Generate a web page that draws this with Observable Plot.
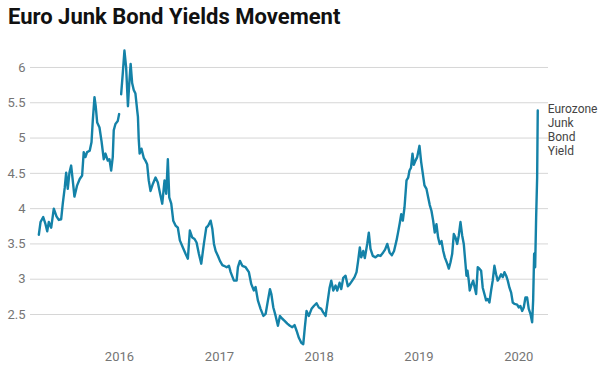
<!DOCTYPE html>
<html>
<head>
<meta charset="utf-8">
<script src="https://cdn.jsdelivr.net/npm/d3@7"></script>
<script src="https://cdn.jsdelivr.net/npm/@observablehq/plot@0.6"></script>
<style>
  html, body { margin: 0; padding: 0; background: #fff; }
  #title { height: 36px; line-height: 34px; padding-left: 8px; font-family: Roboto, sans-serif; font-weight: 700; font-size: 22px; color: #111; white-space: nowrap; }
  #chart svg { display: block; }
</style>
</head>
<body>
<div id="title">Euro Junk Bond Yields Movement</div>
<div id="chart"></div>
<script>
const titleText = "Euro Junk Bond Yields Movement";
const seriesLabel = "Eurozone\nJunk\nBond\nYield";
const yTicks = [2.5, 3, 3.5, 4, 4.5, 5, 5.5, 6];
const xTickYears = [2016, 2017, 2018, 2019, 2020];

// time as decimal year, yield in %
const years = [
2015.192,2015.209,2015.236,2015.259,2015.276,2015.292,2015.316,2015.342,2015.369,2015.392,
2015.416,2015.432,2015.452,2015.466,2015.482,2015.499,2015.516,2015.532,2015.549,2015.576,
2015.602,2015.626,2015.642,2015.659,2015.676,2015.702,2015.720,2015.733,2015.750,2015.763,
2015.777,2015.800,2015.820,2015.843,2015.860,2015.883,2015.900,2015.917,2015.933,2015.943,
2015.960,2015.983,2015.997,2016.005,2016.017,2016.033,2016.050,2016.067,2016.085,2016.097,
2016.112,2016.127,2016.143,2016.160,2016.177,2016.185,2016.193,2016.202,2016.220,2016.243,
2016.260,2016.277,2016.293,2016.311,2016.334,2016.361,2016.384,2016.404,2016.428,2016.451,
2016.468,2016.484,2016.498,2016.518,2016.538,2016.561,2016.584,2016.604,2016.634,2016.661,
2016.684,2016.704,2016.728,2016.751,2016.771,2016.794,2016.818,2016.844,2016.868,2016.888,
2016.912,2016.929,2016.945,2016.962,2016.985,2017.005,2017.029,2017.045,2017.072,2017.095,
2017.112,2017.145,2017.172,2017.185,2017.205,2017.229,2017.262,2017.295,2017.319,2017.345,
2017.362,2017.385,2017.412,2017.440,2017.463,2017.486,2017.506,2017.520,2017.540,2017.563,
2017.586,2017.606,2017.630,2017.653,2017.680,2017.706,2017.730,2017.753,2017.773,2017.796,
2017.820,2017.840,2017.856,2017.873,2017.896,2017.923,2017.946,2017.973,2017.996,2018.020,
2018.040,2018.064,2018.081,2018.104,2018.121,2018.141,2018.164,2018.181,2018.204,2018.221,
2018.241,2018.264,2018.287,2018.307,2018.331,2018.354,2018.374,2018.389,2018.407,2018.421,
2018.441,2018.457,2018.481,2018.497,2018.514,2018.537,2018.564,2018.589,2018.614,2018.641,
2018.660,2018.682,2018.705,2018.728,2018.750,2018.775,2018.790,2018.808,2018.822,2018.838,
2018.855,2018.875,2018.892,2018.905,2018.920,2018.935,2018.948,2018.965,2018.982,2019.005,
2019.022,2019.038,2019.055,2019.075,2019.092,2019.108,2019.125,2019.142,2019.158,2019.175,
2019.192,2019.208,2019.226,2019.243,2019.259,2019.283,2019.299,2019.316,2019.333,2019.349,
2019.366,2019.383,2019.399,2019.416,2019.433,2019.449,2019.466,2019.476,2019.486,2019.499,
2019.509,2019.526,2019.543,2019.559,2019.573,2019.589,2019.606,2019.623,2019.639,2019.656,
2019.673,2019.689,2019.706,2019.723,2019.739,2019.756,2019.773,2019.789,2019.806,2019.823,
2019.840,2019.857,2019.874,2019.890,2019.907,2019.924,2019.940,2019.957,2019.984,2020.000,
2020.017,2020.034,2020.050,2020.067,2020.084,2020.100,2020.117,2020.134,2020.144,2020.154,
2020.164,2020.174,2020.184,2020.190
];
const yields = [
3.63,3.81,3.88,3.78,3.68,3.81,3.73,4.00,3.89,3.84,
3.85,4.07,4.30,4.51,4.28,4.51,4.61,4.40,4.17,4.33,
4.42,4.47,4.80,4.73,4.80,4.82,4.94,5.25,5.58,5.44,
5.22,5.15,4.96,4.70,4.78,4.68,4.70,4.54,4.73,5.11,
5.20,5.24,5.34,null,5.62,5.91,6.24,6.00,5.45,5.75,
6.05,5.78,5.68,5.63,5.40,5.30,4.98,4.78,4.85,4.72,
4.68,4.63,4.40,4.25,4.35,4.44,4.37,4.23,4.07,4.40,
4.21,4.70,4.16,4.07,3.83,3.76,3.73,3.55,3.45,3.36,
3.29,3.69,3.59,3.57,3.52,3.36,3.22,3.50,3.73,3.76,
3.83,3.71,3.50,3.40,3.33,3.26,3.20,3.19,3.17,3.19,
3.10,2.98,2.98,3.17,3.26,3.19,3.17,3.10,2.93,2.84,
2.89,2.70,2.58,2.48,2.51,2.70,2.86,2.79,2.60,2.48,
2.34,2.48,2.44,2.41,2.37,2.34,2.32,2.35,2.27,2.17,
2.10,2.08,2.32,2.55,2.48,2.58,2.62,2.66,2.60,2.58,
2.53,2.48,2.65,2.88,2.98,2.84,2.91,2.84,2.95,2.86,
3.02,3.05,2.90,2.93,2.98,3.03,3.10,3.25,3.45,3.31,
3.40,3.30,3.50,3.66,3.43,3.33,3.31,3.34,3.33,3.38,
3.42,3.50,3.38,3.34,3.40,3.55,3.66,3.80,3.92,3.83,
4.02,4.40,4.44,4.54,4.58,4.78,4.62,4.68,4.73,4.89,
4.66,4.50,4.33,4.28,4.16,4.05,3.97,3.83,3.66,3.78,
3.59,3.50,3.54,3.40,3.31,3.22,3.15,3.24,3.36,3.64,
3.59,3.50,3.62,3.81,3.62,3.50,3.22,3.05,3.12,2.98,
2.84,2.92,2.98,2.88,2.79,3.17,3.15,3.12,2.88,2.79,
2.70,2.72,2.67,2.84,2.98,3.19,3.07,2.98,3.02,3.07,
3.03,3.10,3.05,2.98,2.88,2.81,2.67,2.65,2.64,2.60,
2.62,2.55,2.60,2.74,2.74,2.58,2.51,2.39,2.70,3.36,
3.17,3.88,4.44,5.39
];

function decToDate(t) {
  const y = Math.floor(t);
  const a = Date.UTC(y, 0, 1), b = Date.UTC(y + 1, 0, 1);
  return new Date(a + (t - y) * (b - a));
}

const data = years.map((t, i) => ({date: decToDate(t), value: yields[i]}));
const last = data[data.length - 1];
const xTicks = xTickYears.map(y => new Date(Date.UTC(y, 0, 1)));

const chart = Plot.plot({
  width: 601,
  height: 340,
  marginLeft: 30,
  marginRight: 53,
  marginTop: 9.8,
  marginBottom: 26.7,
  style: {fontFamily: "Roboto, sans-serif", background: "#fff"},
  x: {type: "utc", domain: [decToDate(2015.1085), decToDate(2020.2975)]},
  y: {domain: [2, 6.3]},
  marks: [
    Plot.gridY(yTicks, {stroke: "#d6d6d6", strokeOpacity: 1, strokeWidth: 1}),
    Plot.axisY(yTicks, {tickSize: 0, tickPadding: 5, fontSize: 13, fill: "#757575", label: null, tickFormat: d => String(d)}),
    Plot.axisX(xTicks, {tickSize: 0, tickPadding: 2, fontSize: 13, fill: "#757575", label: null, tickFormat: d3.utcFormat("%Y")}),
    Plot.line(data, {x: "date", y: "value", stroke: "#1482a8", strokeWidth: 2.4, curve: "linear"}),
    Plot.text([last], {x: "date", y: "value", text: () => seriesLabel, textAnchor: "start", lineAnchor: "top", dx: 10, dy: -7, fontSize: 12, lineHeight: 1.15, fill: "#444"})
  ]
});
document.getElementById("chart").appendChild(chart);
</script>
</body>
</html>
